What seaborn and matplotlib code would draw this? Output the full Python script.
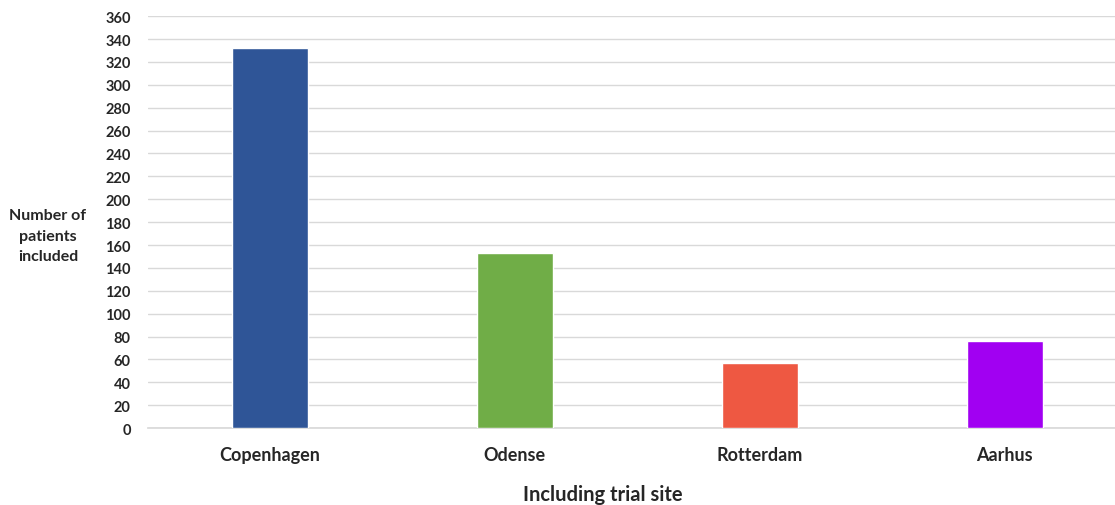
import matplotlib

matplotlib.use("Agg")
import matplotlib.pyplot as plt
import pandas as pd
import seaborn as sns

sites = ["Copenhagen", "Odense", "Rotterdam", "Aarhus"]
patients = [332, 153, 57, 76]
colors = ["#2f5597", "#70ad47", "#ee5842", "#a100f2"]

sns.set_theme(style="white")
plt.rcParams["font.family"] = ["Lato", "DejaVu Sans"]

df = pd.DataFrame({"site": sites, "patients": patients})

fig = plt.figure(figsize=(11.15, 5.06), dpi=100)
ax = fig.add_axes([0.1323, 0.152, 0.8677, 0.814])
sns.barplot(data=df, x="site", y="patients", hue="site", palette=colors,
            width=0.31, legend=False, saturation=1, ax=ax, zorder=3)

ax.set_ylim(0, 360)
ax.set_yticks(range(0, 361, 20))
ax.set_xlim(-0.5, 3.45)
ax.grid(axis="y", color="#d9d9d9", linewidth=1, zorder=0)
for side in ["top", "right", "left"]:
    ax.spines[side].set_visible(False)
ax.spines["bottom"].set_color("#d9d9d9")
ax.tick_params(axis="both", length=0)
ax.tick_params(axis="y", labelsize=10.5, pad=12)
ax.tick_params(axis="x", labelsize=13, pad=13)
for lbl in ax.get_yticklabels() + ax.get_xticklabels():
    lbl.set_fontweight("bold")

ax.set_xlabel("")
ax.set_ylabel("")
fig.text(0.541, 0.022, "Including trial site", ha="center", va="center",
         fontsize=14.5, fontweight="bold")
fig.text(0.043, 0.532, "Number of\npatients\nincluded", ha="center", va="center",
         fontsize=11.5, fontweight="bold", linespacing=1.6)

plt.savefig("out.png", dpi=100)
plt.close()
